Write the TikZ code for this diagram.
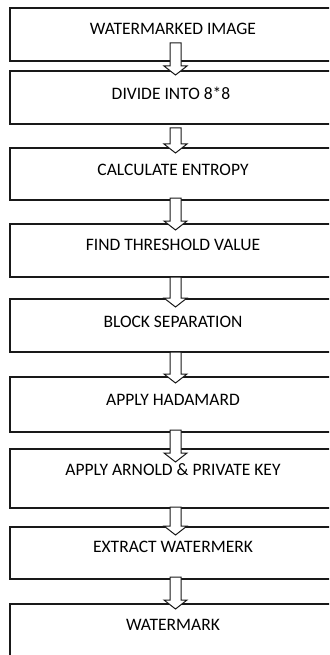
\documentclass[tikz,border=0pt]{standalone}
\usepackage{fontspec}
\setmainfont{Carlito}
\usetikzlibrary{calc}
\tikzset{
  flowbox/.style={draw=black!90, line width=1.5pt, rectangle, minimum width=331pt,
    anchor=north west, inner sep=0pt, outer sep=0pt},
  boxtext/.style={font=\fontsize{17.5}{20}\selectfont, text height=0.644em,
    text depth=0pt, inner sep=0pt, text=black},
  hollowarrow/.style={draw=black!90, fill=white, line width=1pt, line join=miter},
}
\newcommand\blockarrow[2]{%
  \path[hollowarrow] ($(#1)+(-5.5,0)$) -- ($(#2)+(-5.5,-9)$) -- ($(#2)+(-11.5,-9)$)
    -- (#2) -- ($(#2)+(11.5,-9)$) -- ($(#2)+(5.5,-9)$) -- ($(#1)+(5.5,0)$) -- cycle;}
\begin{document}
\begin{tikzpicture}[x=1pt,y=-1pt]
\useasboundingbox (0,0) rectangle (329,655);
\clip (0,0) rectangle (329,655);
% boxes
\node[flowbox, minimum height=53pt] (b1) at (10,8) {};
\node[flowbox, minimum height=53pt] (b2) at (10,71) {};
\node[flowbox, minimum height=52pt] (b3) at (10,148) {};
\node[flowbox, minimum height=53pt] (b4) at (10,224) {};
\node[flowbox, minimum height=53pt] (b5) at (10,299) {};
\node[flowbox, minimum height=55pt] (b6) at (10,377) {};
\node[flowbox, minimum height=59pt] (b7) at (10,449) {};
\node[flowbox, minimum height=52pt] (b8) at (10,527) {};
\node[flowbox, minimum height=70pt] (b9) at (10,604) {};
% texts
\node[boxtext] (t1) at (173,31.5) {WATERMARKED IMAGE};
\node[boxtext] (t2) at (171,96) {DIVIDE INTO 8*8};
\node[boxtext] (t3) at (173,172) {CALCULATE ENTROPY};
\node[boxtext] (t4) at (173,247) {FIND THRESHOLD VALUE};
\node[boxtext] (t5) at (173,324) {BLOCK SEPARATION};
\node[boxtext] (t6) at (173,402) {APPLY HADAMARD};
\node[boxtext] (t7) at (173,472) {APPLY ARNOLD \& PRIVATE KEY};
\node[boxtext] (t8) at (173,549) {EXTRACT WATERMERK};
\node[boxtext] (t9) at (173,627) {WATERMARK};
% arrow end points
\coordinate (a1s) at ([yshift=18pt]b1.south);
\coordinate (a1e) at ([yshift=-4pt]b2.north);
\coordinate (a2s) at ([yshift=-4pt]b2.south);
\coordinate (a2e) at ([yshift=-5pt]b3.north);
\coordinate (a3s) at ([yshift=2pt]b3.south);
\coordinate (a3e) at ([yshift=-6pt]b4.north);
\coordinate (a4s) at (b4.south);
\coordinate (a4e) at ([yshift=-8pt]b5.north);
\coordinate (a5s) at (b5.south);
\coordinate (a5e) at ([yshift=-6pt]b6.north);
\coordinate (a6s) at ([yshift=2pt]b6.south);
\coordinate (a6e) at ([yshift=-13pt]b7.north);
\coordinate (a7s) at ([yshift=1pt]b7.south);
\coordinate (a7e) at ([yshift=-8pt]b8.north);
\coordinate (a8s) at ([yshift=2pt]b8.south);
\coordinate (a8e) at ([yshift=-5pt]b9.north);
% arrows
\blockarrow{a1s}{a1e}
\blockarrow{a2s}{a2e}
\blockarrow{a3s}{a3e}
\blockarrow{a4s}{a4e}
\blockarrow{a5s}{a5e}
\blockarrow{a6s}{a6e}
\blockarrow{a7s}{a7e}
\blockarrow{a8s}{a8e}
\end{tikzpicture}
\end{document}
